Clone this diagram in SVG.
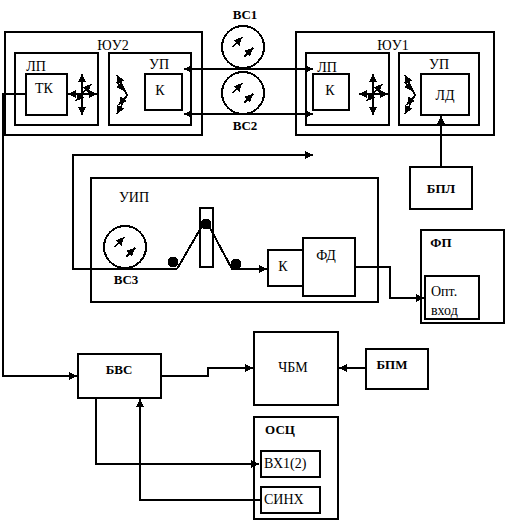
<svg xmlns="http://www.w3.org/2000/svg" width="507" height="523" viewBox="0 0 507 523" shape-rendering="crispEdges">
<style>
rect,circle.r{fill:none;stroke:#000;stroke-width:2}
.c path{fill:none;stroke:#000;stroke-width:2}
.t{stroke-width:1.5;fill:none;stroke:#000}
text{font-family:"Liberation Serif","Times New Roman",serif;font-size:14px;fill:#000}
.b{font-weight:bold;font-size:13px}
.m{text-anchor:middle}
</style>
<defs>
<marker id="a" markerUnits="userSpaceOnUse" markerWidth="10" markerHeight="10" refX="8" refY="4" orient="auto-start-reverse"><path d="M0 0L8 4L0 8z" fill="#000"/></marker>
<marker id="s" markerUnits="userSpaceOnUse" markerWidth="9" markerHeight="9" refX="8" refY="4" orient="auto-start-reverse"><path d="M0 0L8 4L0 8z" fill="#000"/></marker>
<g id="dial"><circle class="r" r="21"/><path class="t" d="M-10 0L-1 -10" marker-end="url(#s)"/><path class="t" d="M1 10L10 1" marker-end="url(#s)"/></g>
<g id="cross"><path class="t" d="M0 -20V21" marker-start="url(#s)" marker-end="url(#s)"/><path class="t" d="M-14 0H15" marker-start="url(#s)" marker-end="url(#s)"/><path class="t" d="M0 0L9 -10" marker-end="url(#s)"/><path class="t" d="M0 0L-6 7" marker-end="url(#s)"/></g>
<g id="zig"><path class="t" d="M-5 -19L5 1" marker-start="url(#s)"/><path class="t" d="M5 1L-5 20" marker-end="url(#s)"/><path class="t" d="M-5 -12L2 -3" marker-end="url(#s)"/><path class="t" d="M3 3L-3 11" marker-end="url(#s)"/></g>
</defs>
<g id="connectors" class="c">
<path d="M26 94H3V376H77" marker-end="url(#a)"/>
<path d="M184 69H313" marker-start="url(#a)" marker-end="url(#a)"/>
<path d="M184 114H313" marker-start="url(#a)" marker-end="url(#a)"/>
<path d="M441 167V116" marker-end="url(#a)"/>
<path d="M177 269H73V155H313" marker-end="url(#a)"/>
<path d="M177 269L202 226M209 226L232 269H267" marker-end="url(#a)"/>
<path d="M355 267H390V298H424" marker-end="url(#a)"/>
<path d="M161 376H208V368H253" marker-end="url(#a)"/>
<path d="M366 368H339" marker-end="url(#a)"/>
<path d="M96 398V464H259" marker-end="url(#a)"/>
<path d="M261 500H140V399" marker-end="url(#a)"/>
</g>
<g id="yuu2"><rect x="5" y="32" width="197" height="103"/><text x="113" y="50" class="m">ЮУ2</text></g>
<g id="lp2"><rect x="15" y="53" width="83" height="72"/><text x="36" y="71" class="m">ЛП</text><use href="#cross" x="82" y="94"/></g>
<g id="tk"><rect x="26" y="74" width="41" height="41"/><text x="44" y="93" class="m">ТК</text></g>
<g id="up2"><rect x="109" y="53" width="82" height="72"/><text x="159" y="69" class="m">УП</text><use href="#zig" x="122" y="94"/></g>
<g id="k2"><rect x="145" y="74" width="37" height="36"/><text x="160" y="95" class="m">К</text></g>
<g id="yuu1"><rect x="296" y="32" width="198" height="103"/><text x="393" y="50" class="m">ЮУ1</text></g>
<g id="lp1"><rect x="306" y="53" width="83" height="72"/><text x="327" y="72" class="m">ЛП</text><use href="#cross" x="373" y="94"/></g>
<g id="k1"><rect x="313" y="74" width="36" height="36"/><text x="330" y="95" class="m">К</text></g>
<g id="up1"><rect x="399" y="53" width="80" height="72"/><text x="439" y="69" class="m">УП</text><use href="#zig" x="410" y="94"/></g>
<g id="ld"><rect x="421" y="74" width="48" height="41"/><text x="445" y="100" class="m">ЛД</text></g>
<g id="vs1"><use href="#dial" x="243" y="47"/><text x="245" y="19" class="m b">ВС1</text></g>
<g id="vs2"><use href="#dial" x="243" y="93"/><text x="245" y="130" class="m b">ВС2</text></g>
<g id="bpl"><rect x="410" y="167" width="62" height="42"/><text x="441" y="193" class="m b">БПЛ</text></g>
<g id="uip"><rect x="91" y="178" width="287" height="124"/><text x="134" y="202" class="m">УИП</text></g>
<g id="vs3"><use href="#dial" x="125" y="247"/><text x="126" y="284" class="m b">ВС3</text></g>
<g id="coupler"><rect x="200" y="208" width="13" height="59"/><circle cx="173" cy="262" r="5.5"/><circle cx="206" cy="224" r="5.5"/><circle cx="236" cy="264" r="5.5"/></g>
<g id="k3"><rect x="268" y="250" width="35" height="36"/><text x="283" y="271" class="m">К</text></g>
<g id="fd"><rect x="303" y="238" width="52" height="58"/><text x="326" y="260" class="m">ФД</text></g>
<g id="fp"><rect x="421" y="230" width="83" height="93"/><text x="441" y="247" class="m b">ФП</text></g>
<g id="opt"><rect x="425" y="276" width="54" height="43"/><text x="431" y="296">Опт.</text><text x="431" y="315">вход</text></g>
<g id="bvs"><rect x="78" y="354" width="83" height="44"/><text x="119" y="374" class="m b">БВС</text></g>
<g id="chbm"><rect x="254" y="332" width="84" height="73"/><text x="293" y="372" class="m">ЧБМ</text></g>
<g id="bpm"><rect x="366" y="349" width="62" height="40"/><text x="392" y="369" class="m b">БПМ</text></g>
<g id="osc"><rect x="254" y="417" width="84" height="102"/><text x="280" y="434" class="m b">ОСЦ</text></g>
<g id="vx"><rect x="261" y="451" width="59" height="26"/><text x="264" y="468">ВХ1(2)</text></g>
<g id="sync"><rect x="261" y="487" width="59" height="26"/><text x="264" y="504">СИНХ</text></g>
</svg>
